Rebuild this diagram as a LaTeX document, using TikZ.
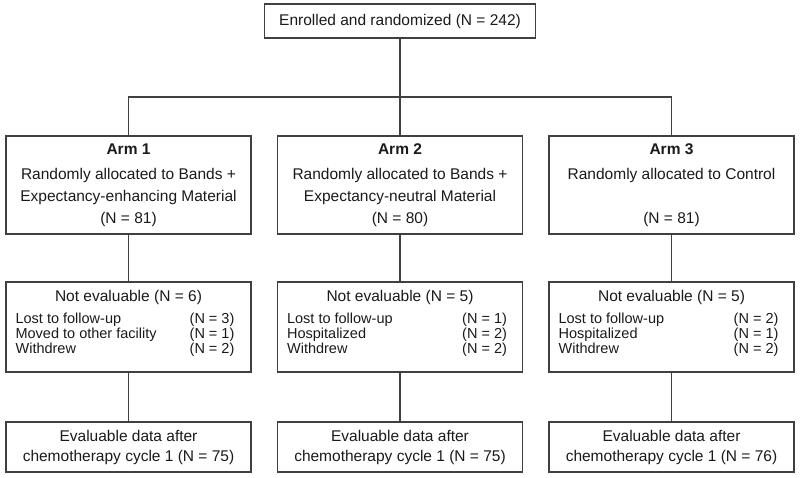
\documentclass[tikz,border=0pt]{standalone}
\usepackage{fontspec}
\setmainfont{Liberation Sans}
\usepackage{tikz, xcolor}
\usetikzlibrary{positioning}
\definecolor{linegray}{HTML}{404040}
\definecolor{textgray}{HTML}{1A1A1A}

\begin{document}
\begin{tikzpicture}[x=1pt, y=-1pt,
    box/.style={draw=linegray, line width=1.2pt, inner sep=0pt, align=center,
      text=textgray, font=\fontsize{15.5}{22}\selectfont},
    armbox/.style={box, minimum width=245pt, minimum height=98pt},
    lostbox/.style={box, minimum width=245pt, minimum height=90pt},
    evalbox/.style={box, minimum width=245pt, minimum height=50pt,
      font=\fontsize{15.5}{20}\selectfont},
    listtxt/.style={inner sep=0pt, text=textgray, font=\fontsize{14.5}{15}\selectfont},
    link/.style={draw=linegray, line width=1.2pt}]
    \useasboundingbox (0,0) rectangle (800,477);

    \node [box, minimum width=271pt, minimum height=34pt] (enrolled) at (400,21)
      {Enrolled and randomized (N = 242)};

    % the three arms
    \node [armbox] (arm1) at (128.5,185) {\textbf{Arm 1}\\[3pt]
      Randomly allocated to Bands +\\ Expectancy-enhancing Material\\ (N = 81)};
    \node [armbox] (arm2) at (400,185) {\textbf{Arm 2}\\[3pt]
      Randomly allocated to Bands +\\ Expectancy-neutral Material\\ (N = 80)};
    \node [armbox] (arm3) at (671.5,185) {\textbf{Arm 3}\\[3pt]
      Randomly allocated to Control\\ \mbox{}\\ (N = 81)};

    % not evaluable
    \node [lostbox] (lost1) at (128.5,327) {};
    \node [lostbox] (lost2) at (400,327) {};
    \node [lostbox] (lost3) at (671.5,327) {};

    \node [box, draw=none, below=8pt of lost1.north] (lost1t) {Not evaluable (N = 6)};
    \node [box, draw=none, below=8pt of lost2.north] (lost2t) {Not evaluable (N = 5)};
    \node [box, draw=none, below=8pt of lost3.north] (lost3t) {Not evaluable (N = 5)};

    \node [listtxt, align=left, anchor=north west] (lost1l) at ([shift={(10,31)}]lost1.north west)
      {Lost to follow-up\\ Moved to other facility\\ Withdrew};
    \node [listtxt, align=right, anchor=north east] (lost1r) at ([shift={(-17,31)}]lost1.north east)
      {(N = 3)\\ (N = 1)\\ (N = 2)};
    \node [listtxt, align=left, anchor=north west] (lost2l) at ([shift={(10,31)}]lost2.north west)
      {Lost to follow-up\\ Hospitalized\\ Withdrew};
    \node [listtxt, align=right, anchor=north east] (lost2r) at ([shift={(-16,31)}]lost2.north east)
      {(N = 1)\\ (N = 2)\\ (N = 2)};
    \node [listtxt, align=left, anchor=north west] (lost3l) at ([shift={(10,31)}]lost3.north west)
      {Lost to follow-up\\ Hospitalized\\ Withdrew};
    \node [listtxt, align=right, anchor=north east] (lost3r) at ([shift={(-16,31)}]lost3.north east)
      {(N = 2)\\ (N = 1)\\ (N = 2)};

    % evaluable
    \node [evalbox] (eval1) at (128.5,447) {Evaluable data after\\ chemotherapy cycle 1 (N = 75)};
    \node [evalbox] (eval2) at (400,447) {Evaluable data after\\ chemotherapy cycle 1 (N = 75)};
    \node [evalbox] (eval3) at (671.5,447) {Evaluable data after\\ chemotherapy cycle 1 (N = 76)};

    \coordinate (split) at (400,97);
    \draw [link] (enrolled) to (arm2);
    \draw [link] (arm1.north) |- (split) -| (arm3.north);

    \foreach \i in {1,2,3} {
      \draw [link] (arm\i) to (lost\i);
      \draw [link] (lost\i) to (eval\i);
    }
\end{tikzpicture}
\end{document}
